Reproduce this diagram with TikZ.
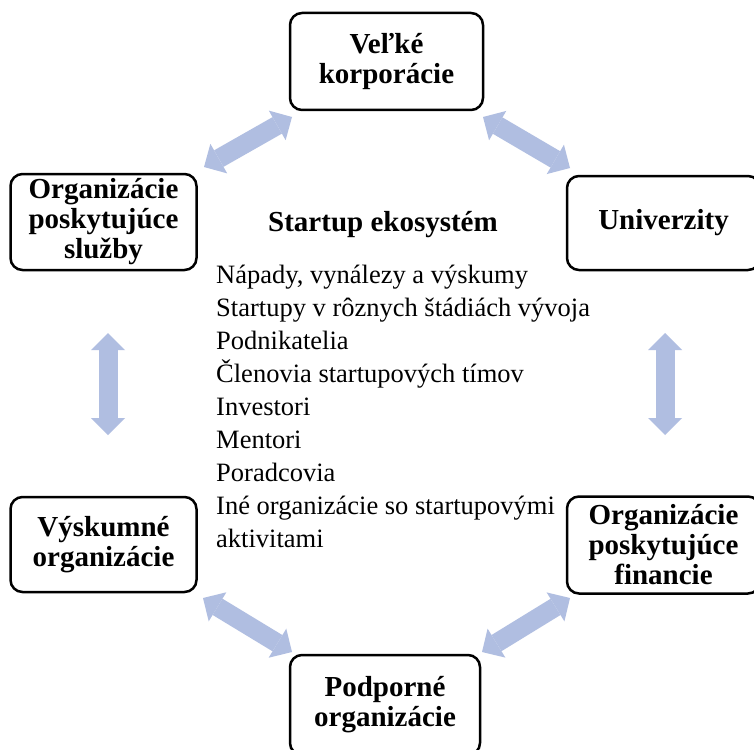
\documentclass[tikz,border=0pt]{standalone}
\usepackage{fontspec}
\setmainfont{Liberation Serif}
\usetikzlibrary{arrows.meta}
\definecolor{arrowc}{RGB}{176,190,225}
\tikzset{
  box/.style={draw=black, line width=2.5pt, rounded corners=12pt, fill=white,
    font=\bfseries\fontsize{29}{30}\selectfont, align=center, inner sep=0pt},
  dblarrow/.style={line width=19pt, draw=arrowc,
    {Triangle[width=34pt,length=17pt,line width=0pt 0 0,fill=arrowc]}-{Triangle[width=34pt,length=17pt,line width=0pt 0 0,fill=arrowc]}},
  listtext/.style={font=\fontsize{26.5}{33}\selectfont, align=left, inner sep=0pt, anchor=north west}
}
\begin{document}
\begin{tikzpicture}[x=1pt,y=-1pt]
\useasboundingbox (0,0) rectangle (754,749);
\clip (0,0) rectangle (754,749);
\fill[white] (0,0) rectangle (754,749);
% boxes
\node[box, minimum width=193pt, minimum height=97pt] (vk) at (386.5,61.5) {Veľké\\korporácie};
\node[box, minimum width=193pt, minimum height=94pt] (uni) at (663.5,223) {Univerzity};
\node[box, minimum width=186pt, minimum height=96pt] (ops) at (103.5,222) {Organizácie\\poskytujúce\\služby};
\node[box, minimum width=186pt, minimum height=95pt] (vo) at (103.5,544.5) {Výskumné\\organizácie};
\node[box, minimum width=193pt, minimum height=97pt] (opf) at (663.5,545) {Organizácie\\poskytujúce\\financie};
\node[box, minimum width=190pt, minimum height=100pt] (po) at (385,705) {Podporné\\organizácie};
% centre text
\node[font=\bfseries\fontsize{29}{30}\selectfont, anchor=base, inner sep=0pt] (title) at (383,231) {Startup ekosystém};
\node[listtext] (list) at (216,265) {Nápady, vynálezy a výskumy\\
Startupy v rôznych štádiách vývoja\\
Podnikatelia\\
Členovia startupových tímov\\
Investori\\
Mentori\\
Poradcovia\\
Iné organizácie so startupovými\\
aktivitami};
% arrow end points
\coordinate (a1s) at (204,167); \coordinate (a1e) at (292,117);
\coordinate (a2s) at (483,117); \coordinate (a2e) at (570,168);
\coordinate (a3s) at (108,333); \coordinate (a3e) at (108,435);
\coordinate (a4s) at (665,333); \coordinate (a4e) at (665,435);
\coordinate (a5s) at (203,598); \coordinate (a5e) at (292,652);
\coordinate (a6s) at (570,598); \coordinate (a6e) at (482,652);
\draw[dblarrow] (a1s) -- (a1e);
\draw[dblarrow] (a2s) -- (a2e);
\draw[dblarrow] (a3s) -- (a3e);
\draw[dblarrow] (a4s) -- (a4e);
\draw[dblarrow] (a5s) -- (a5e);
\draw[dblarrow] (a6s) -- (a6e);
\end{tikzpicture}
\end{document}
